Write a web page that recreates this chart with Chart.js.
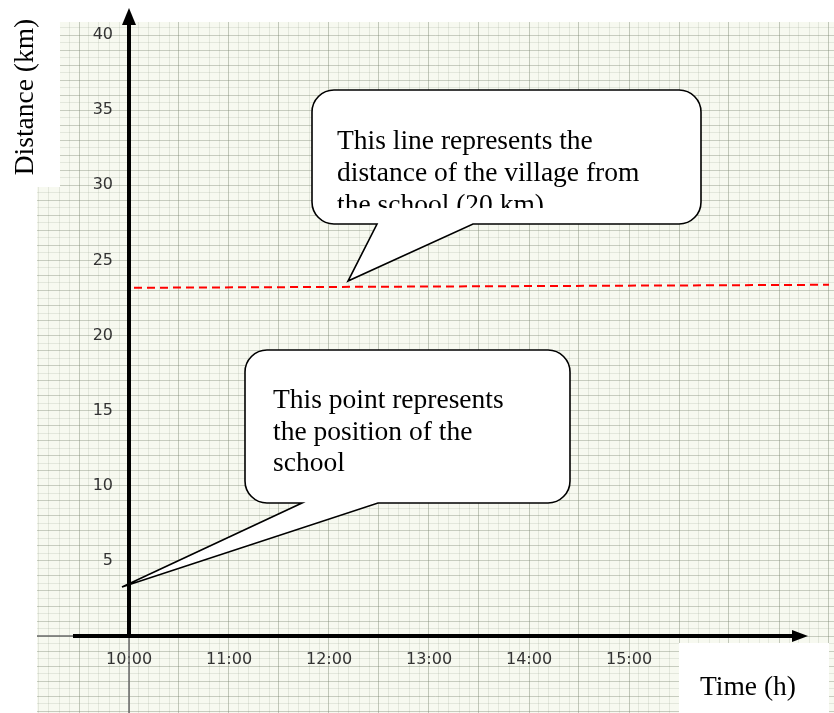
<!DOCTYPE html>
<html><head><meta charset="utf-8">
<script src="https://cdn.jsdelivr.net/npm/chart.js@4/dist/chart.umd.min.js"></script>
<style>html,body{margin:0;padding:0;background:#fff;}canvas{display:block;}</style>
</head><body>
<canvas id="c" width="834" height="713"></canvas>
<script>
// ---- data ----
const timeTickValues = [10, 11, 12, 13, 14, 15];
const timeTickLabels = ['10:00', '11:00', '12:00', '13:00', '14:00', '15:00'];
const distanceTickValues = [5, 10, 15, 20, 25, 30, 35, 40];
const villageLineTimes = [10.05, 17.0];
const villageLineDistances = [23.18, 23.38];
const villageCalloutTarget = [12.19, 23.63];
const schoolCalloutTarget = [9.93, 3.26];
const villageCalloutText = ['This line represents the', 'distance of the village from', 'the school (20 km)'];
const schoolCalloutText = ['This point represents', 'the position of the', 'school'];
const xTitle = 'Time (h)';
const yTitle = 'Distance (km)';

const SERIF = '"Liberation Serif", "Times New Roman", serif';
const TEXT_FONT = '27.5px ' + SERIF;

function roundBubble(ctx, l, t, r, b, rad, baseL, baseR, tip) {
  ctx.beginPath();
  ctx.moveTo(l + rad, t);
  ctx.lineTo(r - rad, t);
  ctx.arcTo(r, t, r, t + rad, rad);
  ctx.lineTo(r, b - rad);
  ctx.arcTo(r, b, r - rad, b, rad);
  ctx.lineTo(baseR, b);
  ctx.lineTo(tip.x, tip.y);
  ctx.lineTo(baseL, b);
  ctx.lineTo(l + rad, b);
  ctx.arcTo(l, b, l, b - rad, rad);
  ctx.lineTo(l, t + rad);
  ctx.arcTo(l, t, l + rad, t, rad);
  ctx.closePath();
  ctx.fillStyle = '#ffffff';
  ctx.fill();
  ctx.lineWidth = 1.6;
  ctx.strokeStyle = '#000';
  ctx.lineJoin = 'miter';
  ctx.stroke();
}

const paperPlugin = {
  id: 'paper',
  beforeDraw(chart) {
    const {ctx, chartArea: a} = chart;
    ctx.save();
    ctx.fillStyle = '#f7f9f0';
    ctx.fillRect(a.left, a.top, a.right - a.left, a.bottom - a.top);
    ctx.restore();
  },
  afterDraw(chart) {
    const {ctx, chartArea: a} = chart;
    const xs = chart.scales.x, ys = chart.scales.y;
    const ax = xs.getPixelForValue(10);
    const ay = ys.getPixelForValue(0);
    ctx.save();
    // white label areas
    ctx.fillStyle = '#fff';
    ctx.fillRect(0, 0, 60, 187);
    ctx.fillRect(679, 643, 150, 70);
    // thin extensions of axes
    ctx.strokeStyle = '#6a6a6a';
    ctx.lineWidth = 1.5;
    ctx.beginPath();
    ctx.moveTo(ax, ay); ctx.lineTo(ax, a.bottom);
    ctx.moveTo(a.left, ay); ctx.lineTo(ax - 56, ay);
    ctx.stroke();
    // thick black axes
    ctx.strokeStyle = '#000';
    ctx.lineWidth = 4;
    ctx.beginPath();
    ctx.moveTo(ax, ay + 2); ctx.lineTo(ax, 20);
    ctx.moveTo(ax - 56, ay); ctx.lineTo(796, ay);
    ctx.stroke();
    ctx.fillStyle = '#000';
    ctx.beginPath();
    ctx.moveTo(ax, 8); ctx.lineTo(ax - 7, 25); ctx.lineTo(ax + 7, 25); ctx.closePath(); ctx.fill();
    ctx.beginPath();
    ctx.moveTo(808, ay); ctx.lineTo(792, ay - 6); ctx.lineTo(792, ay + 6); ctx.closePath(); ctx.fill();

    // axis titles
    ctx.fillStyle = '#000';
    ctx.font = TEXT_FONT;
    ctx.textAlign = 'left';
    ctx.textBaseline = 'alphabetic';
    ctx.fillText(xTitle, 700, 695);
    ctx.save();
    ctx.translate(33, 97);
    ctx.rotate(-Math.PI / 2);
    ctx.textAlign = 'center';
    ctx.fillText(yTitle, 0, 0);
    ctx.restore();

    // callout 1 (village line)
    const tip1 = {x: xs.getPixelForValue(villageCalloutTarget[0]), y: ys.getPixelForValue(villageCalloutTarget[1])};
    roundBubble(ctx, 312, 90, 701, 224, 22, 377, 473, tip1);
    ctx.save();
    ctx.beginPath(); ctx.rect(313, 91, 387, 117); ctx.clip();
    ctx.fillStyle = '#000';
    ctx.font = TEXT_FONT;
    ctx.textAlign = 'left';
    villageCalloutText.forEach((s, i) => ctx.fillText(s, 337, 149 + i * 32));
    ctx.restore();

    // callout 2 (school point)
    const tip2 = {x: xs.getPixelForValue(schoolCalloutTarget[0]), y: ys.getPixelForValue(schoolCalloutTarget[1])};
    roundBubble(ctx, 245, 350, 570, 503, 22, 302, 378, tip2);
    ctx.fillStyle = '#000';
    ctx.font = TEXT_FONT;
    ctx.textAlign = 'left';
    schoolCalloutText.forEach((s, i) => ctx.fillText(s, 273, 408 + i * 31.5));
    ctx.restore();
  }
};

function near(a, b) { return Math.abs(a - b) < 1e-6; }
function noPad(scale) { scale.paddingLeft = 0; scale.paddingRight = 0; scale.paddingTop = 0; scale.paddingBottom = 0; }

new Chart(document.getElementById('c'), {
  type: 'line',
  data: {
    datasets: [{
      data: villageLineTimes.map((t, i) => ({x: t, y: villageLineDistances[i]})),
      borderColor: '#ff0000',
      borderWidth: 2,
      borderDash: [8, 5],
      pointRadius: 0,
      fill: false,
      tension: 0
    }]
  },
  options: {
    responsive: false,
    animation: false,
    devicePixelRatio: 1,
    layout: {padding: {left: 37, top: 22, right: 0, bottom: 0}},
    plugins: {legend: {display: false}, tooltip: {enabled: false}},
    scales: {
      x: {
        type: 'linear',
        position: {y: 0},
        min: 9.08, max: 17.05,
        afterFit: noPad,
        border: {display: false},
        grid: {
          drawTicks: false,
          lineWidth: 1,
          color: (c) => {
            const v = c.tick.value;
            return near(v * 2, Math.round(v * 2)) ? 'rgba(120,132,110,0.42)' : 'rgba(150,162,140,0.2)';
          }
        },
        ticks: {
          stepSize: 0.1,
          includeBounds: false,
          autoSkip: false,
          maxRotation: 0, minRotation: 0,
          padding: 14,
          color: '#333',
          font: {family: '"DejaVu Sans", Verdana, sans-serif', size: 16},
          callback: (v) => {
            const i = timeTickValues.findIndex(t => near(t, v));
            return i >= 0 ? timeTickLabels[i] : '';
          }
        }
      },
      y: {
        type: 'linear',
        position: {x: 9.84},
        min: -5.12, max: 40.87,
        afterFit: noPad,
        border: {display: false},
        grid: {
          drawTicks: false,
          lineWidth: 1,
          color: (c) => {
            const v = c.tick.value;
            return near(v, Math.round(v)) ? 'rgba(120,132,110,0.38)' : 'rgba(150,162,140,0.2)';
          }
        },
        ticks: {
          stepSize: 0.5,
          includeBounds: false,
          autoSkip: false,
          padding: 0,
          color: '#333',
          font: {family: '"DejaVu Sans", Verdana, sans-serif', size: 16},
          callback: (v) => distanceTickValues.some(t => near(t, v)) ? String(Math.round(v)) : ''
        }
      }
    }
  },
  plugins: [paperPlugin]
});
</script>
</body></html>
